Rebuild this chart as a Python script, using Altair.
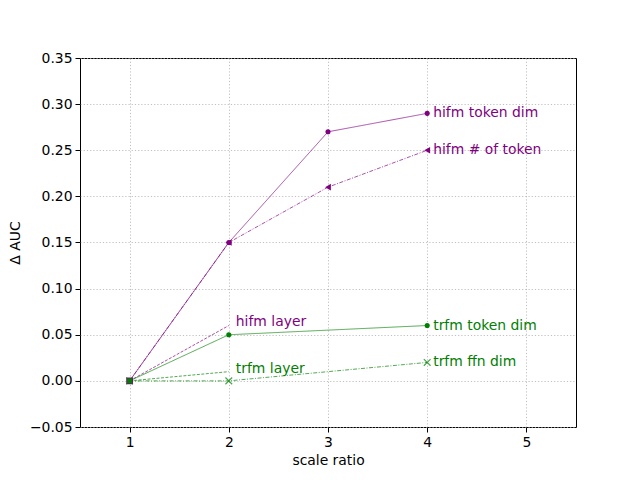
import altair as alt
import pandas as pd

# Data
series_names = ["hifm token dim", "hifm # of token", "hifm layer",
                "trfm token dim", "trfm ffn dim", "trfm layer"]
series_x = [[1, 2, 3, 4], [1, 2, 3, 4], [1, 2], [1, 2, 4], [1, 2, 4], [1, 2]]
series_y = [[0.0, 0.15, 0.27, 0.29], [0.0, 0.15, 0.21, 0.25], [0.0, 0.06],
            [0.0, 0.05, 0.06], [0.0, 0.0, 0.02], [0.0, 0.01]]
series_color = ["purple", "purple", "purple", "green", "green", "green"]
series_dash = [[1, 0], [4, 1.5, 1, 1.5], [3, 1.5], [1, 0], [4, 1.5, 1, 1.5], [3, 1.5]]
series_shape = ["circle", "triangle-left", "square", "circle", "x", None]
label_dy = [0, 0, -4, 0, 0, -3]
label_dx = [6, 6, 7, 6, 6, 7]

x_ticks = [1, 2, 3, 4, 5]
y_ticks = [-0.05, 0.0, 0.05, 0.10, 0.15, 0.20, 0.25, 0.30, 0.35]

X = alt.X("x:Q", scale=alt.Scale(domain=[0.5, 5.5], nice=False, zero=False),
          axis=alt.Axis(values=x_ticks, format="d", title="scale ratio"))
Y = alt.Y("y:Q", scale=alt.Scale(domain=[-0.05, 0.35], nice=False, zero=False),
          axis=alt.Axis(values=y_ticks, format=".2f", title="Δ AUC"))

layers = []
for i, name in enumerate(series_names):
    df = pd.DataFrame({"x": series_x[i], "y": series_y[i]})
    line = alt.Chart(df).mark_line(color=series_color[i], strokeWidth=0.8,
                                   strokeDash=series_dash[i], opacity=0.85).encode(x=X, y=Y)
    layers.append(line)

for i, name in enumerate(series_names):
    df = pd.DataFrame({"x": series_x[i], "y": series_y[i]})
    shp = series_shape[i]
    if shp is None:
        continue
    if shp == "square":
        df = df.iloc[:1]
    if shp == "x":
        pt = alt.Chart(df).mark_point(shape="M-1,-1L1,1M-1,1L1,-1", filled=False,
                                      stroke=series_color[i], strokeWidth=1.2, size=45).encode(x=X, y=Y)
    else:
        size = {"circle": 26, "triangle-left": 45, "square": 45}[shp]
        pt = alt.Chart(df).mark_point(shape=shp, filled=True, color=series_color[i],
                                      size=size, opacity=1).encode(x=X, y=Y)
    layers.append(pt)

for i, name in enumerate(series_names):
    df = pd.DataFrame({"x": [series_x[i][-1]], "y": [series_y[i][-1]], "label": [name]})
    txt = alt.Chart(df).mark_text(align="left", baseline="middle", dx=label_dx[i], dy=label_dy[i],
                                  font="DejaVu Sans", fontSize=13.9,
                                  color=series_color[i]).encode(x=X, y=Y, text="label:N")
    layers.append(txt)

chart = alt.layer(*layers).properties(
    width=496, height=369,
    autosize=alt.AutoSizeParams(type="none"),
    padding={"left": 72, "top": 50, "right": 56, "bottom": 45},
).configure_view(
    stroke="black", strokeWidth=1
).configure_axis(
    grid=True, gridColor="#b0b0b0", gridDash=[1.2, 2], gridWidth=0.8,
    domain=False, tickColor="black", tickSize=5, tickWidth=1,
    labelFont="DejaVu Sans", labelFontSize=13.9, labelColor="black", labelPadding=3,
    titleFont="DejaVu Sans", titleFontSize=13.9, titleFontWeight="normal", titleColor="black",
).configure_axisY(titlePadding=7).configure_axisX(titlePadding=5)

chart.save("out.html", embed_options={"renderer": "svg", "actions": False})
